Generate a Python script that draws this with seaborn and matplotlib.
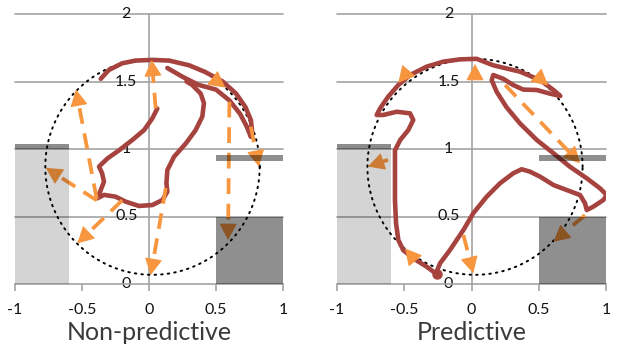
import numpy as np
import matplotlib
matplotlib.use("Agg")
import matplotlib.pyplot as plt
import seaborn as sns
import pandas as pd

sns.set_theme(style="white")
plt.rcParams['font.family'] = ['Lato', 'DejaVu Sans']

# ---- axes, ticks, titles ----
x_ticks = [-1, -0.5, 0, 0.5, 1]
x_tick_labels = ["-1", "-0.5", "0", "0.5", "1"]
y_ticks = [0, 0.5, 1, 1.5, 2]
y_tick_labels = ["0", "0.5", "1", "1.5", "2"]
panel_titles = ["Non-predictive", "Predictive"]

# ---- shaded zones: (x_start, x_end, y_bottom, y_top, opacity) ----
zone_x0 = [-1.0, -1.0, 0.5, 0.5]
zone_x1 = [-0.6, -0.6, 1.0, 1.0]
zone_y0 = [0.0, 1.0, 0.91, 0.0]
zone_y1 = [1.0, 1.04, 0.955, 0.5]
zone_alpha = [0.17, 0.45, 0.44, 0.44]

# ---- reference circle ----
circle_cx, circle_cy = 0.026, 0.868
circle_rx, circle_ry = 0.80, 0.80

# ---- Non-predictive trajectories ----
np_outer_x = [0.137, 0.25, 0.37, 0.50, 0.60, 0.68, 0.73, 0.76, 0.77, 0.76,
              0.72, 0.65, 0.55, 0.42, 0.30, 0.15, 0.025, -0.10, -0.20, -0.30, -0.36]
np_outer_y = [1.60, 1.535, 1.475, 1.44, 1.36, 1.26, 1.165, 1.09, 1.13, 1.215,
              1.31, 1.41, 1.50, 1.57, 1.62, 1.655, 1.66, 1.655, 1.635, 1.585, 1.52]
np_inner_x = [0.062, 0.025, -0.037, -0.124, -0.224, -0.31, -0.373, -0.35, -0.336,
              -0.36, -0.386, -0.336, -0.25, -0.174, -0.075, 0.025, 0.10, 0.137,
              0.13, 0.137, 0.187, 0.274, 0.348, 0.398, 0.41, 0.386, 0.323, 0.28]
np_inner_y = [1.30, 1.227, 1.14, 1.067, 0.99, 0.93, 0.87, 0.82, 0.758,
              0.696, 0.635, 0.66, 0.647, 0.61, 0.578, 0.585, 0.622, 0.684,
              0.746, 0.844, 0.943, 1.04, 1.14, 1.24, 1.34, 1.41, 1.474, 1.50]
# dashed arrows: start -> tip
np_arrow_x0 = [-0.39, -0.39, -0.20, 0.125, 0.05, 0.60, 0.76]
np_arrow_y0 = [0.63, 0.62, 0.62, 0.71, 1.30, 1.35, 1.165]
np_arrow_x1 = [-0.545, -0.77, -0.535, 0.013, 0.02, 0.59, 0.82]
np_arrow_y1 = [1.44, 0.86, 0.30, 0.067, 1.66, 0.326, 0.87]
np_arrow_ls = ['--', '--', '--', '--', '--', '--', '--']
# direction heads sitting on the trajectory: tip and heading
np_head_x = [0.57]
np_head_y = [1.455]
np_head_dx = [1.0]
np_head_dy = [-0.75]

# ---- Predictive trajectory ----
pr_path_x = [-0.26, -0.333, -0.433, -0.507, -0.544, -0.561, -0.569, -0.569, -0.569,
             -0.53, -0.47, -0.433, -0.457, -0.556, -0.656, -0.705, -0.68, -0.62,
             -0.544, -0.457, -0.333, -0.21, -0.085, 0.039, 0.162, 0.36, 0.51,
             0.61, 0.66,
             0.584, 0.485, 0.385, 0.31, 0.236, 0.162, 0.15, 0.187, 0.26, 0.36,
             0.485, 0.61, 0.73, 0.857, 0.955, 1.005, 0.98, 0.906, 0.857, 0.844,
             0.807, 0.708, 0.61, 0.51, 0.435, 0.373, 0.31, 0.212, 0.113, 0.013,
             -0.06, -0.16, -0.234, -0.26]
pr_path_y = [0.074, 0.128, 0.19, 0.25, 0.326, 0.45, 0.62, 0.795, 0.99,
             1.067, 1.14, 1.215, 1.264, 1.276, 1.252, 1.252, 1.30, 1.387,
             1.474, 1.548, 1.61, 1.647, 1.664, 1.668, 1.62, 1.573, 1.51,
             1.437, 1.393,
             1.41, 1.437, 1.44, 1.474, 1.52, 1.548, 1.51, 1.424, 1.31, 1.19,
             1.067, 0.968, 0.87, 0.783, 0.709, 0.659, 0.622, 0.573, 0.548, 0.598,
             0.659, 0.696, 0.733, 0.795, 0.832, 0.85, 0.82, 0.746, 0.647, 0.524,
             0.40, 0.252, 0.153, 0.09]
pr_arrow_x0 = [0.25, -0.62, 0.844, -0.06]
pr_arrow_y0 = [1.474, 0.92, 0.51, 0.363]
pr_arrow_x1 = [0.807, -0.77, 0.61, 0.013]
pr_arrow_y1 = [0.894, 0.87, 0.313, 0.08]
pr_arrow_ls = ['--', '-', '--', '--']
pr_head_x = [0.026, -0.544, 0.571, -0.494]
pr_head_y = [1.63, 1.49, 1.47, 0.264]
pr_head_dx = [0.0, -0.6, 0.6, -0.5]
pr_head_dy = [1.0, -0.7, -0.5, 0.6]

RED = '#a6433f'
ORANGE = '#f7963f'
GRID = '#a3a3a3'
HEAD_STYLE = '-|>,head_length=0.75,head_width=0.4'


def draw_head(ax, tx, ty, dx, dy, color):
    n = np.hypot(dx, dy)
    ux, uy = dx / n, dy / n
    ax.annotate('', xy=(tx, ty), xytext=(tx - 0.09 * ux, ty - 0.09 * uy),
                arrowprops=dict(arrowstyle=HEAD_STYLE, color=color, lw=0.8,
                                shrinkA=0, shrinkB=0, mutation_scale=14),
                zorder=5)


def draw_arrow(ax, x0, y0, x1, y1, ls):
    n = np.hypot(x1 - x0, y1 - y0)
    ux, uy = (x1 - x0) / n, (y1 - y0) / n
    ax.plot([x0, x1 - 0.07 * ux], [y0, y1 - 0.07 * uy], color=ORANGE, lw=2.7,
            linestyle=(0, (4.2, 2.6)) if ls == '--' else '-',
            solid_capstyle='butt', dash_capstyle='butt', zorder=4)
    draw_head(ax, x1, y1, ux, uy, ORANGE)


def setup_panel(ax, title):
    ax.set_xlim(-1, 1)
    ax.set_ylim(0, 2)
    for s in ax.spines.values():
        s.set_visible(False)
    ax.spines['bottom'].set_visible(True)
    ax.spines['bottom'].set_color(GRID)
    ax.spines['bottom'].set_linewidth(1.2)
    ax.set_yticks([])
    ax.set_xticks(x_ticks, x_tick_labels)
    ax.tick_params(axis='x', bottom=True, length=5, width=1.2, color=GRID,
                   direction='out', pad=9, labelsize=11.5, labelcolor='#111111')
    for v in y_ticks[1:]:
        ax.plot([-1, 1], [v, v], color=GRID, lw=1.2, clip_on=False, zorder=1)
    ax.plot([0, 0], [0, 2], color=GRID, lw=1.2, clip_on=False, zorder=1)
    for v, lab in zip(y_ticks, y_tick_labels):
        ax.text(-0.17, v, lab, ha='center', va='center', fontsize=11.5,
                color='#111111', zorder=2)
    t = np.linspace(0, 2 * np.pi, 400)
    ax.plot(circle_cx + circle_rx * np.cos(t), circle_cy + circle_ry * np.sin(t),
            color='black', lw=1.4, linestyle=(0, (0.8, 2.6)),
            dash_capstyle='round', zorder=2)
    ax.text(0.5, -0.178, title, transform=ax.transAxes, ha='center',
            va='center', fontsize=18, color='#3a3a3a')


def draw_zones(ax):
    for x0, x1, y0, y1, a in zip(zone_x0, zone_x1, zone_y0, zone_y1, zone_alpha):
        ax.bar(x0, y1 - y0, width=x1 - x0, bottom=y0, align='edge',
               color='black', alpha=a, linewidth=0, zorder=6)


def trace(ax, xs, ys):
    df = pd.DataFrame({'x': xs, 'y': ys})
    sns.lineplot(data=df, x='x', y='y', sort=False, estimator=None, ax=ax,
                 color=RED, lw=3.3, zorder=3,
                 solid_capstyle='round', solid_joinstyle='round')


fig = plt.figure(figsize=(6.17, 3.5), dpi=100)
W, H = 617, 350
ax1 = fig.add_axes([15 / W, (H - 284) / H, 268 / W, 270 / H])
ax2 = fig.add_axes([337 / W, (H - 284) / H, 269 / W, 270 / H])

# Non-predictive
setup_panel(ax1, panel_titles[0])
trace(ax1, np_outer_x, np_outer_y)
trace(ax1, np_inner_x, np_inner_y)
for a in zip(np_arrow_x0, np_arrow_y0, np_arrow_x1, np_arrow_y1, np_arrow_ls):
    draw_arrow(ax1, *a)
for h in zip(np_head_x, np_head_y, np_head_dx, np_head_dy):
    draw_head(ax1, *h, ORANGE)
draw_zones(ax1)

# Predictive
setup_panel(ax2, panel_titles[1])
trace(ax2, pr_path_x, pr_path_y)
ax2.plot([pr_path_x[0]], [pr_path_y[0]], 'o', color=RED, ms=6.5, zorder=3)
for a in zip(pr_arrow_x0, pr_arrow_y0, pr_arrow_x1, pr_arrow_y1, pr_arrow_ls):
    draw_arrow(ax2, *a)
for h in zip(pr_head_x, pr_head_y, pr_head_dx, pr_head_dy):
    draw_head(ax2, *h, ORANGE)
draw_zones(ax2)

for ax in (ax1, ax2):
    ax.set_xlabel('')
    ax.set_ylabel('')
    ax.set_xlim(-1, 1)
    ax.set_ylim(0, 2)

fig.savefig('out.png', dpi=100)
